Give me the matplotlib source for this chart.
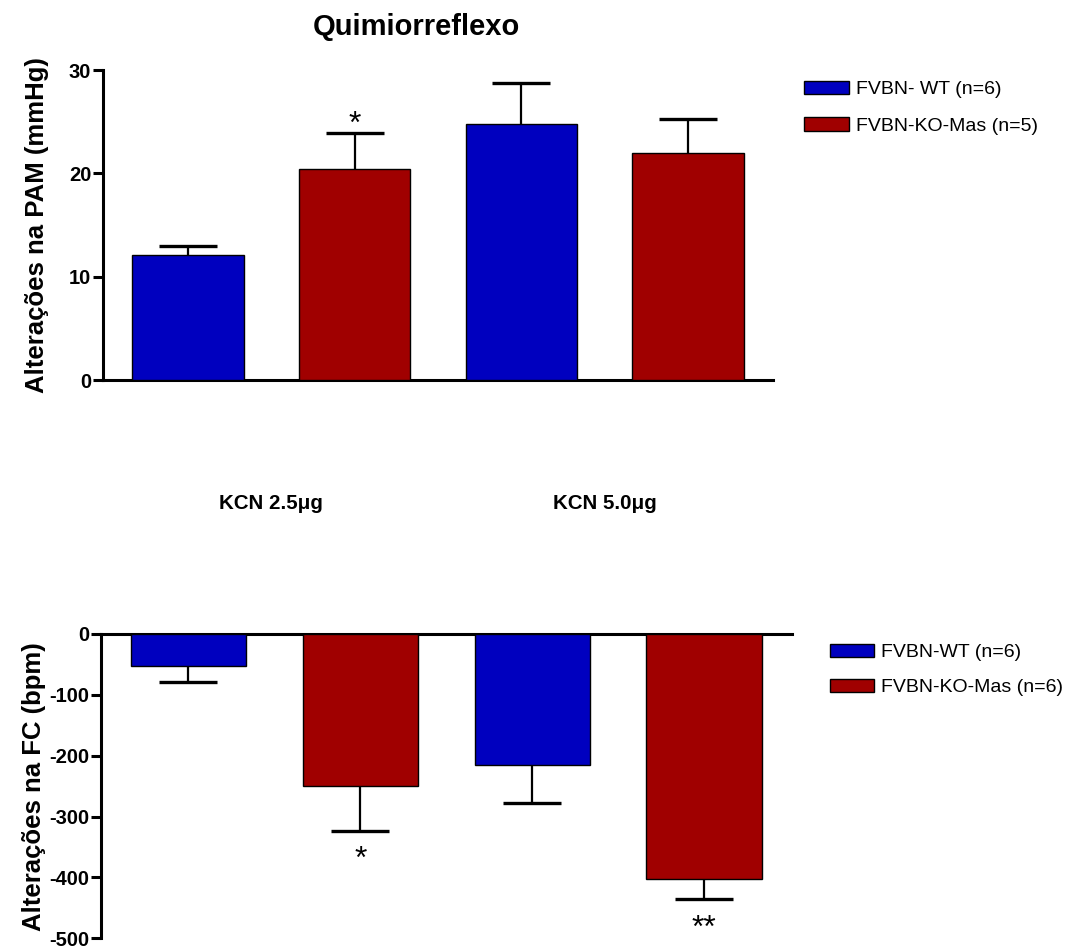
import matplotlib

matplotlib.use("Agg")
import matplotlib.pyplot as plt
import numpy as np

doses = ["KCN 2.5μg", "KCN 5.0μg"]

# alteracoes na PAM (mmHg)
pam_wt = [12.1, 24.8]
pam_wt_err = [0.9, 3.9]
pam_ko = [20.4, 22.0]
pam_ko_err = [3.5, 3.3]
pam_ko_sig = ["*", ""]
pam_labels = ["FVBN- WT (n=6)", "FVBN-KO-Mas (n=5)"]
pam_ticks = [0, 10, 20, 30]

# alteracoes na FC (bpm)
fc_wt = [-53, -215]
fc_wt_err = [26, 62]
fc_ko = [-250, -403]
fc_ko_err = [73, 33]
fc_ko_sig = ["*", "**"]
fc_labels = ["FVBN-WT (n=6)", "FVBN-KO-Mas (n=6)"]
fc_ticks = [-500, -400, -300, -200, -100, 0]

BLUE = "#0000BF"
RED = "#A00000"
W, H = 1068, 949

plt.rcParams.update(
    {
        "font.family": ["Liberation Sans", "DejaVu Sans"],
        "axes.unicode_minus": False,
        "axes.linewidth": 2.2,
        "ytick.major.width": 2.2,
        "ytick.major.size": 7,
        "ytick.major.pad": 1.5,
    }
)


def draw_panel(ax, wt, wt_err, ko, ko_err, sig, labels, ticks, ylabel):
    x_wt = np.arange(len(wt)) * 2
    x_ko = x_wt + 1
    direction = 1 if np.mean(wt) >= 0 else -1

    b_wt = ax.bar(x_wt, wt, 0.67, color=BLUE, edgecolor="black", lw=1,
                  zorder=3, label=labels[0])
    b_ko = ax.bar(x_ko, ko, 0.67, color=RED, edgecolor="black", lw=1,
                  zorder=3, label=labels[1])
    # symmetric bars behind the columns -> only the outer half shows
    for xs, vals, errs in [(x_wt, wt, wt_err), (x_ko, ko, ko_err)]:
        ax.errorbar(xs, vals, yerr=errs, fmt="none", ecolor="black",
                    elinewidth=1.6, capsize=21, capthick=2.4, zorder=2)

    # the asterisk glyph sits high in its box, so shift down more than up
    offset = 6 if direction > 0 else -21
    for xi, v, e, s in zip(x_ko, ko, ko_err, sig):
        if s:
            ax.annotate(s, (xi, v + direction * e),
                        xytext=(0, offset), textcoords="offset points",
                        ha="center", va="center", fontsize=23)

    ax.set_xlim(-0.51, 3.51)
    ax.set_ylim(min(ticks), max(ticks))
    ax.set_yticks(ticks)
    ax.set_xticks([])
    for lab in ax.get_yticklabels():
        lab.set_fontsize(14.5)
        lab.set_fontweight("bold")
    ax.spines["right"].set_visible(False)
    if direction > 0:
        ax.spines["top"].set_visible(False)
    else:
        ax.spines["bottom"].set_visible(False)
    ax.set_ylabel(ylabel, fontsize=18.5, fontweight="bold", va="center")
    return b_wt, b_ko


fig = plt.figure(figsize=(W / 100, H / 100), dpi=100)

ax_top = fig.add_axes([103 / W, 1 - 380 / H, 670 / W, 310 / H])
draw_panel(ax_top, pam_wt, pam_wt_err, pam_ko, pam_ko_err, pam_ko_sig,
           pam_labels, pam_ticks, "Alterações na PAM (mmHg)")
ax_top.yaxis.set_label_coords(-0.098, 0.5)
ax_top.legend(loc="upper left", bbox_to_anchor=(804 / W, 1 - 81 / H),
              bbox_transform=fig.transFigure, frameon=False, fontsize=14,
              borderpad=0, borderaxespad=0, handlelength=2.3,
              handleheight=0.67, handletextpad=0.36, labelspacing=0.98)
for xi, name in zip(np.arange(len(doses)) * 2 + 0.5, doses):
    ax_top.text(xi, -0.397, name, transform=ax_top.get_xaxis_transform(),
                ha="center", va="center", fontsize=14.8, fontweight="bold")
fig.text(416 / W, 1 - 27 / H, "Quimiorreflexo", ha="center", va="center",
         fontsize=21, fontweight="bold")

ax_bot = fig.add_axes([100.7 / W, 1 - 938.3 / H, 691 / W, 304.3 / H])
draw_panel(ax_bot, fc_wt, fc_wt_err, fc_ko, fc_ko_err, fc_ko_sig,
           fc_labels, fc_ticks, "Alterações na FC (bpm)")
ax_bot.yaxis.set_label_coords(-0.096, 0.5)
ax_bot.legend(loc="upper left", bbox_to_anchor=(830 / W, 1 - 644 / H),
              bbox_transform=fig.transFigure, frameon=False, fontsize=14,
              borderpad=0, borderaxespad=0, handlelength=2.25,
              handleheight=0.65, handletextpad=0.36, labelspacing=0.9)

fig.savefig("out.png", dpi=100)
